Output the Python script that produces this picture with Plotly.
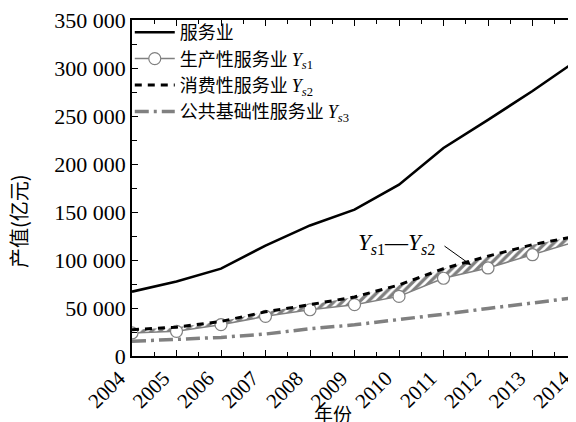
import plotly.graph_objects as go

years = [2004, 2005, 2006, 2007, 2008, 2009, 2010, 2011, 2012, 2013, 2014]
services = [67000, 77500, 91000, 115000, 136000, 152500, 178500, 216700, 246000, 276000, 308000]
ys1 = [24000, 25700, 32600, 41300, 48200, 53500, 62100, 81000, 91700, 105500, 119500]
ys2 = [27400, 30000, 36000, 46000, 53500, 61500, 74000, 91000, 104000, 116000, 125000]
ys3 = [15300, 17000, 19400, 22900, 28400, 32500, 37800, 43500, 49500, 55500, 61000]

yticks = [0, 50000, 100000, 150000, 200000, 250000, 300000, 350000]

names = [
    "服务业",
    "生产性服务业 <span style=\"font-family:'Liberation Serif'\"><i>Y</i><sub><i>s</i>1</sub></span>",
    "消费性服务业 <span style=\"font-family:'Liberation Serif'\"><i>Y</i><sub><i>s</i>2</sub></span>",
    "公共基础性服务业 <span style=\"font-family:'Liberation Serif'\"><i>Y</i><sub><i>s</i>3</sub></span>",
]

SERIF = "'Liberation Serif', 'Times New Roman', serif"
CJK = "'Noto Sans CJK SC', sans-serif"

fig = go.Figure()
fig.add_trace(go.Scatter(x=years, y=services, mode="lines", name=names[0],
                         line=dict(color="black", width=2.6)))
fig.add_trace(go.Scatter(x=years, y=ys1, mode="lines+markers", name=names[1],
                         line=dict(color="#808080", width=1.5),
                         marker=dict(symbol="circle", size=12, color="white",
                                     line=dict(color="#808080", width=1.2))))
fig.add_trace(go.Scatter(x=years, y=ys2, mode="lines", showlegend=False,
                         line=dict(width=0, color="black"), fill="tonexty",
                         fillpattern=dict(shape="/", fgcolor="black", bgcolor="white",
                                          size=6, solidity=0.55),
                         hoverinfo="skip"))
fig.add_trace(go.Scatter(x=years, y=ys2, mode="lines", name=names[2],
                         line=dict(color="black", width=3, dash="7px,6px")))
fig.add_trace(go.Scatter(x=years, y=ys3, mode="lines", name=names[3],
                         line=dict(color="#808080", width=3.5, dash="14px,5px,3px,5px")))

fig.update_layout(
    width=576, height=422,
    margin=dict(l=124, r=7, t=12, b=74, autoexpand=False),
    plot_bgcolor="white", paper_bgcolor="white",
    font=dict(family=SERIF, color="black"),
    separators=". ",
    showlegend=True,
    legend=dict(x=-0.005, y=1 - 6 / 422, yref="container", xanchor="left", yanchor="top",
                traceorder="normal",
                bgcolor="rgba(0,0,0,0)", borderwidth=0,
                font=dict(family=CJK, size=18, color="black"),
                tracegroupgap=0, itemwidth=40),
)
fig.update_xaxes(range=[2004, 2014], tickmode="array", tickvals=years,
                 ticktext=[str(y) for y in years], tickangle=-45,
                 ticklabeloverflow="allow", automargin=False,
                 ticklabelshift=-13,
                 ticks="inside", ticklen=6, tickcolor="black",
                 minor=dict(dtick=0.5, tick0=2004, ticks="inside", ticklen=4, tickcolor="black"),
                 showline=True, linecolor="black", linewidth=1.5, mirror="ticks",
                 showgrid=False, zeroline=False,
                 tickfont=dict(family=SERIF, size=21, color="black"))
fig.update_yaxes(range=[0, 350000], tickmode="array", tickvals=yticks,
                 tickformat=",d", ticklabeloverflow="allow", automargin=False,
                 ticks="inside", ticklen=6, tickcolor="black",
                 minor=dict(dtick=25000, tick0=0, ticks="inside", ticklen=5, tickcolor="black"),
                 showline=True, linecolor="black", linewidth=1.5, mirror="ticks",
                 showgrid=False, zeroline=False,
                 tickfont=dict(family=SERIF, size=22, color="black"))

# axis titles
fig.add_annotation(text="产值(亿元)", xref="paper", yref="paper",
                   x=-(124 - 10) / 445, y=(348 - 213) / 336, textangle=-90,
                   xanchor="center", yanchor="middle",
                   showarrow=False, font=dict(family=CJK, size=20, color="black"))
fig.add_annotation(text="年份", xref="paper", yref="paper",
                   x=(325 - 124) / 445, y=(348 - 405) / 336,
                   xanchor="center", yanchor="middle",
                   showarrow=False, font=dict(family=CJK, size=19, color="black"))

# band annotation
fig.add_annotation(text="<i>Y</i><sub><i>s</i>1</sub>—<i>Y</i><sub><i>s</i>2</sub>",
                   x=2004 + (388 - 124) / 44.5, y=(348 - 236) / 336 * 350000,
                   xref="x", yref="y", showarrow=False,
                   font=dict(family=SERIF, size=23, color="black"))
fig.add_annotation(text="", x=2004 + (463 - 124) / 44.5, y=(348 - 257) / 336 * 350000,
                   xref="x", yref="y", showarrow=True, ax=-28, ay=-20,
                   arrowhead=2, arrowsize=1, arrowwidth=1, arrowcolor="black")

fig.write_html("out.html")
